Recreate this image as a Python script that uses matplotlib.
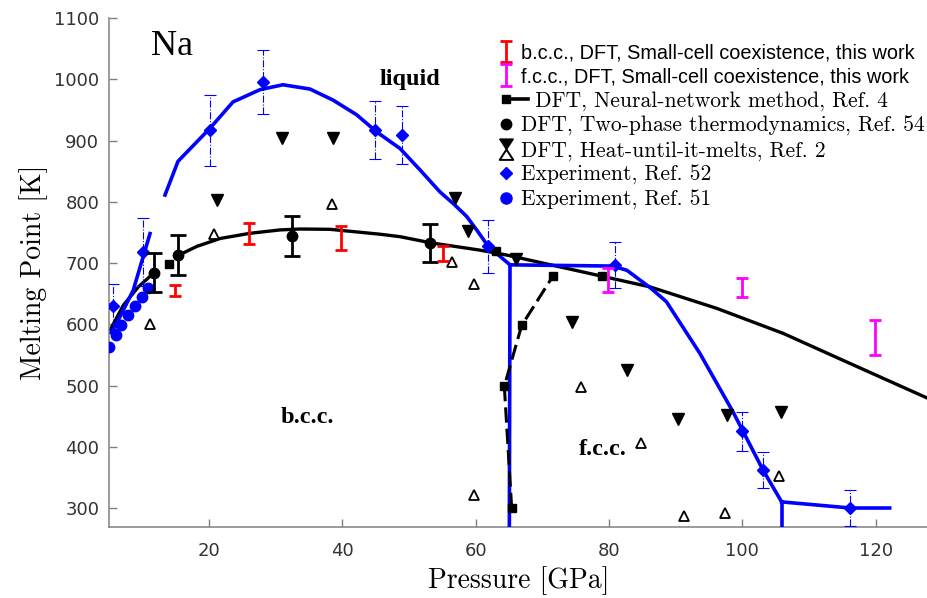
import matplotlib
matplotlib.use("Agg")
import matplotlib.pyplot as plt
from matplotlib.lines import Line2D
from matplotlib.path import Path
from matplotlib.markers import MarkerStyle
from matplotlib.legend_handler import HandlerBase

# Experiment, Ref. 51 (blue circles)
exp51_p = [5.05, 6.05, 6.85, 7.85, 8.9, 9.9, 10.8]
exp51_t = [563, 582, 599, 615, 630, 644, 660]

# Experiment, Ref. 52 (blue diamonds, dash-dot error bars)
exp52_p = [5.6, 10.15, 20.15, 28.15, 44.9, 48.9, 61.9, 80.9, 99.9, 103.15, 116.2]
exp52_t = [629, 718, 917, 996, 917, 909, 727, 697, 425, 362, 300]
exp52_err = [36, 55, 58, 52, 47, 47, 43, 38, 32, 30, 30]

# experimental phase boundaries (blue lines)
exp_low_p = [5.4, 7.15, 8.65, 9.9, 11.15]
exp_low_t = [586, 623, 656, 702, 748]
liq_bcc_p = [13.4, 15.35, 20.15, 23.6, 27.65, 31.1, 35.15, 38.6, 42.15, 45.15,
             48.65, 51.65, 54.65, 56.65, 58.65, 60.15, 61.9, 65.15]
liq_bcc_t = [811, 866, 920, 963, 983, 991, 984, 966, 942, 914,
             887, 852, 816, 797, 776, 754, 727, 697]
bcc_fcc_p = [65.15, 65.05]
bcc_fcc_t = [697, 260]
liq_fcc_p = [65.15, 80.6, 82.7, 86.15, 88.6, 93.6, 98.6, 103.1, 105.9]
liq_fcc_t = [697, 695, 688, 660, 637, 553, 457, 362, 310]
fcc_hcp_p = [105.9, 105.9]
fcc_hcp_t = [310, 260]
liq_hcp_p = [105.9, 116.2, 122.1]
liq_hcp_t = [310, 300, 300]

# DFT, two-phase thermodynamics, Ref. 54 (points + fit)
tp_p = [11.75, 15.3, 32.45, 53.2]
tp_t = [684, 713, 744, 732]
tp_err = [32, 32, 33, 31]
tp_fit_lo_p = [5.05, 7.15, 9.4, 11.75]
tp_fit_lo_t = [588, 631, 661, 684]
tp_fit_p = [15.3, 18.15, 21.65, 26.15, 30.65, 33.65, 38.15, 45.65, 48.65, 53.25,
            60.65, 64.65, 76.65, 86.15, 96.15, 106.15, 116.15, 127.85]
tp_fit_t = [712, 727, 740, 748.5, 754, 755.5, 755, 747, 743, 733,
            721, 713, 684, 661, 626, 585, 536, 479]

# small-cell coexistence, this work
bcc_p = [14.9, 26.05, 39.8, 55.05]
bcc_t = [655, 748, 741, 715]
bcc_err = [9, 17, 20, 12]
fcc_p = [79.9, 99.9, 119.9]
fcc_t = [672, 660, 578]
fcc_err = [20, 15, 29]

# neural-network method, Ref. 4
nn_bf_p = [65.4, 64.3, 66.9, 71.55]
nn_bf_t = [300, 499, 598, 678]
nn_p = [14.0, 63.1, 79.0]
nn_t = [698, 720, 678]

# heat-until-it-melts, Ref. 2
hum_hi_p = [21.15, 30.9, 38.65, 56.9, 58.9, 66.0, 74.4, 82.65, 90.4, 97.75, 105.75]
hum_hi_t = [803, 904, 904, 806, 752, 706, 604, 525, 445, 452, 456]
hum_lo_p = [11.15, 20.8, 38.4, 56.5, 59.7, 75.75, 84.8, 59.75, 105.5, 91.25, 97.4]
hum_lo_t = [601, 747, 797, 702, 665, 497, 406, 322, 352, 287, 292]

BLUE = "#0000ff"
RED = "#ff0000"
MAG = "#ff00ff"

fig = plt.figure(figsize=(9.28, 5.98), dpi=100)
ax = fig.add_axes([109 / 928, 1 - 527 / 598, 819 / 928, 509 / 598])

# fit to the two-phase data
ax.plot(tp_fit_lo_p, tp_fit_lo_t, color="k", lw=2.4, zorder=2)
ax.plot(tp_fit_p, tp_fit_t, color="k", lw=2.4, zorder=2)

# experimental phase diagram
for p, t in [(exp_low_p, exp_low_t), (liq_bcc_p, liq_bcc_t), (bcc_fcc_p, bcc_fcc_t),
             (liq_fcc_p, liq_fcc_t), (fcc_hcp_p, fcc_hcp_t), (liq_hcp_p, liq_hcp_t)]:
    ax.plot(p, t, color=BLUE, lw=2.6, zorder=3)

ax.plot(exp51_p, exp51_t, "o", color=BLUE, ms=7.5, zorder=4)

eb52 = ax.errorbar(exp52_p, exp52_t, yerr=exp52_err, fmt="D", color=BLUE, ms=6,
                   elinewidth=0.8, capsize=4, capthick=0.8, zorder=4)
eb52[2][0].set_linestyle("-.")

# neural network
nn_line, = ax.plot(nn_bf_p, nn_bf_t, "s", color="k", ms=5.5, ls="--",
                   dashes=(5, 2), lw=2.2, zorder=4)
ax.plot(nn_p, nn_t, "s", color="k", ms=5.5, zorder=4)

# heat until it melts
ax.plot(hum_hi_p, hum_hi_t, "v", color="k", ms=8, zorder=4)
ax.plot(hum_lo_p, hum_lo_t, "^", mfc="white", mec="k", mew=1.3, ms=7, ls="none", zorder=4)

eb_tp = ax.errorbar(tp_p, tp_t, yerr=tp_err, fmt="o", color="k", ms=7.5,
                    elinewidth=2, capsize=5.5, capthick=2, zorder=5)

eb_bcc = ax.errorbar(bcc_p, bcc_t, yerr=bcc_err, fmt="none", ecolor=RED,
                     elinewidth=2, capsize=4.5, capthick=2, zorder=6)
eb_fcc = ax.errorbar(fcc_p, fcc_t, yerr=fcc_err, fmt="none", ecolor=MAG,
                     elinewidth=2, capsize=4.5, capthick=2, zorder=6)

# labels inside the plot
ax.text(14.45, 1054, "Na", fontsize=26, family="Liberation Serif", ha="center", va="center")
ax.text(50.15, 999, "liquid", fontsize=17.5, family="Liberation Serif",
        weight="bold", ha="center", va="center")
ax.text(34.7, 447, "b.c.c.", fontsize=17.5, family="Liberation Serif",
        weight="bold", ha="center", va="center")
ax.text(79.1, 395, "f.c.c.", fontsize=17.5, family="Liberation Serif",
        weight="bold", ha="center", va="center")

ax.set_xlim(5, 127.85)
ax.set_ylim(269, 1100)
ax.set_xticks(range(20, 121, 20))
ax.set_yticks(range(300, 1101, 100))
ax.tick_params(direction="in", length=6, width=1, color="#808080",
               labelsize=13, labelcolor="#333333")
ax.tick_params(axis="x", pad=11)
ax.tick_params(axis="y", pad=7)
for lab in ax.get_xticklabels() + ax.get_yticklabels():
    lab.set_family("DejaVu Sans")
for s in ["top", "right"]:
    ax.spines[s].set_visible(False)
for s in ["left", "bottom"]:
    ax.spines[s].set_color("#8a8a8a")
    ax.spines[s].set_linewidth(1.2)

ax.set_xlabel("Pressure [GPa]", family="cmr10", fontsize=20, labelpad=4)
ax.set_ylabel("Melting Point [K]", family="cmr10", fontsize=20, labelpad=4)


class SquareDash(HandlerBase):
    # square marker followed by a short dash
    def create_artists(self, legend, orig_handle, xdescent, ydescent,
                       width, height, fontsize, trans):
        xc = width / 2 - xdescent
        yc = height / 2 - ydescent
        sq = Line2D([xc], [yc], marker="s", color="k", ms=5.5, ls="none", transform=trans)
        dash = Line2D([xc + 5, xc + 16], [yc, yc], color="k", lw=2.6, transform=trans)
        return [sq, dash]


top_tri = Path([(-0.65, 1), (0.65, 1), (0, 0), (-0.65, 1)])
bot_tri = Path([(0, 0), (-0.65, -1), (0.65, -1), (0, 0)])
hg_top = Line2D([], [], marker=MarkerStyle(top_tri), color="k", ms=15, ls="none")
hg_bot = Line2D([], [], marker=MarkerStyle(bot_tri), mfc="white", mec="k",
                mew=1.4, ms=15, ls="none")

handles = [eb_bcc, eb_fcc, nn_line, eb_tp.lines[0], (hg_top, hg_bot),
           eb52.lines[0], Line2D([], [], marker="o", color=BLUE, ms=8, ls="none")]
labels = ["b.c.c., DFT, Small-cell coexistence, this work",
          "f.c.c., DFT, Small-cell coexistence, this work",
          "  DFT, Neural-network method, Ref. 4",
          "DFT, Two-phase thermodynamics, Ref. 54",
          "DFT, Heat-until-it-melts, Ref. 2",
          "Experiment, Ref. 52",
          "Experiment, Ref. 51"]
leg = ax.legend(handles, labels, handler_map={nn_line: SquareDash()},
                loc="upper left", bbox_to_anchor=(484 / 928, 1 - 33 / 598),
                bbox_transform=fig.transFigure, frameon=False, borderpad=0,
                handlelength=1.0, handletextpad=0.2, labelspacing=0.22,
                numpoints=1, prop={"family": "cmr10", "size": 15.5})
for t in leg.get_texts()[:2]:
    t.set_family("Liberation Sans")
    t.set_fontsize(14.3)

fig.savefig("out.png", dpi=100)
